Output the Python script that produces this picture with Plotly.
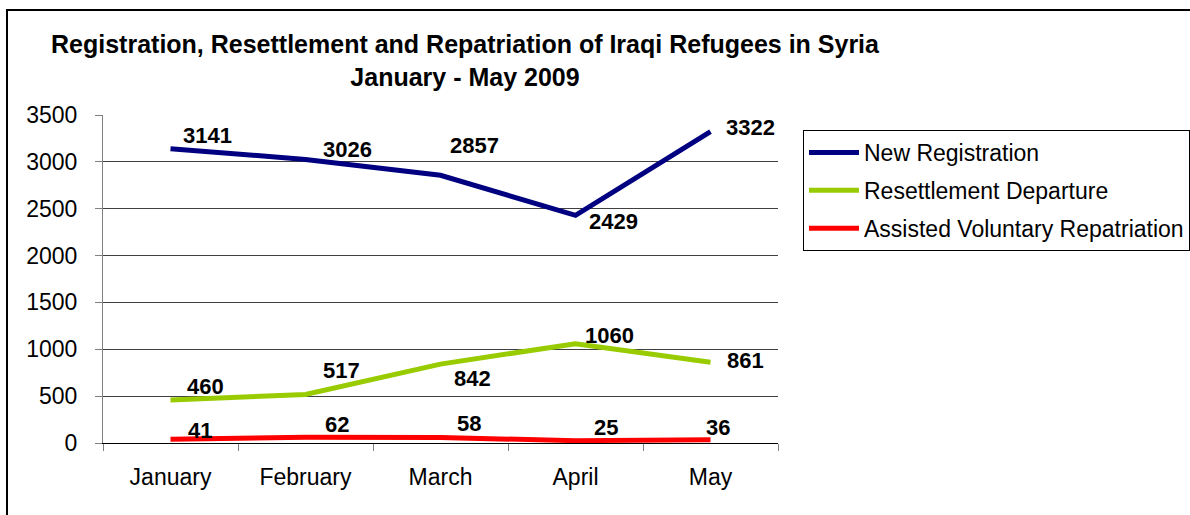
import plotly.graph_objects as go

months = ["January", "February", "March", "April", "May"]
new_registration = [3141, 3026, 2857, 2429, 3322]
resettlement = [460, 517, 842, 1060, 861]
repatriation = [41, 62, 58, 25, 36]
series_names = ["New Registration", "Resettlement Departure", "Assisted Voluntary Repatriation"]
y_ticks = [0, 500, 1000, 1500, 2000, 2500, 3000, 3500]

# label offsets (px) relative to the data point
off_reg = [(37, 13), (42, 10), (34, 30), (38, -6), (40, 4)]
off_res = [(35, 13), (36, 24), (32, -14), (34, 8), (35, 2)]
off_rep = [(29, 9), (31, 13), (28, 14), (30, 13), (7, 12)]

colors = ["#000080", "#99CC00", "#FF0000"]
FONT = "Liberation Sans, Arial, sans-serif"

W, H = 1190, 515
L, R, T, B = 103, 412, 115, 72

fig = go.Figure()
all_series = [new_registration, resettlement, repatriation]
all_offsets = [off_reg, off_res, off_rep]
for name, vals, col in zip(series_names, all_series, colors):
    fig.add_trace(go.Scatter(
        x=months, y=vals, mode="lines", name=name, legendgroup=name,
        line=dict(color=col, width=5), hoverinfo="skip",
    ))

annotations = []
for vals, offs in zip(all_series, all_offsets):
    for m, v, (dx, dy) in zip(months, vals, offs):
        annotations.append(dict(
            x=m, y=v, xref="x", yref="y", text=str(v), showarrow=False,
            xshift=dx, yshift=dy,
            font=dict(family=FONT, size=22, color="black", weight="bold"),
        ))

fig.update_layout(
    width=W, height=H,
    margin=dict(l=L, r=R, t=T, b=B, autoexpand=False),
    paper_bgcolor="white", plot_bgcolor="white",
    font=dict(family=FONT, size=23, color="black"),
    title=dict(
        text="<b>Registration, Resettlement and Repatriation of Iraqi Refugees in Syria<br>January - May 2009</b>",
        x=465 / W, xref="container", xanchor="center",
        y=1 - 53 / H, yref="container", yanchor="top",
        font=dict(family=FONT, size=25, color="black"),
    ),
    showlegend=True,
    legend=dict(
        x=(803 - L) / (W - L - R), y=(H - B - 130) / (H - T - B),
        xanchor="left", yanchor="top",
        bordercolor="black", borderwidth=1, bgcolor="white",
        font=dict(family=FONT, size=23, color="black"),
        itemwidth=50, tracegroupgap=5, traceorder="grouped",
    ),
    xaxis=dict(
        type="category", range=[-0.5, 4.5],
        showline=True, linecolor="black", linewidth=1,
        ticks="outside", ticklen=7, tickcolor="#808080", tickson="boundaries",
        showgrid=False, zeroline=False, ticklabelstandoff=13,
        tickfont=dict(family=FONT, size=23, color="black"),
    ),
    yaxis=dict(
        range=[0, 3500], tickvals=y_ticks,
        showline=True, linecolor="#808080", linewidth=1,
        ticks="outside", ticklen=7, tickcolor="#808080",
        showgrid=True, gridcolor="#404040", gridwidth=1, zeroline=False,
        ticklabelstandoff=13,
        tickfont=dict(family=FONT, size=23, color="black"),
    ),
    annotations=annotations,
    shapes=[
        dict(type="line", xref="paper", yref="paper", x0=0.003, x1=1.01, y0=1, y1=1,
             line=dict(color="white", width=2), layer="below"),
        dict(type="rect", xref="paper", yref="paper",
             x0=(7 - L) / (W - L - R), x1=(1200 - L) / (W - L - R),
             y0=(H - B - 530) / (H - T - B), y1=(H - B - 10) / (H - T - B),
             line=dict(color="black", width=2), fillcolor="rgba(0,0,0,0)", layer="below"),
    ],
)

fig.write_html("out.html")
